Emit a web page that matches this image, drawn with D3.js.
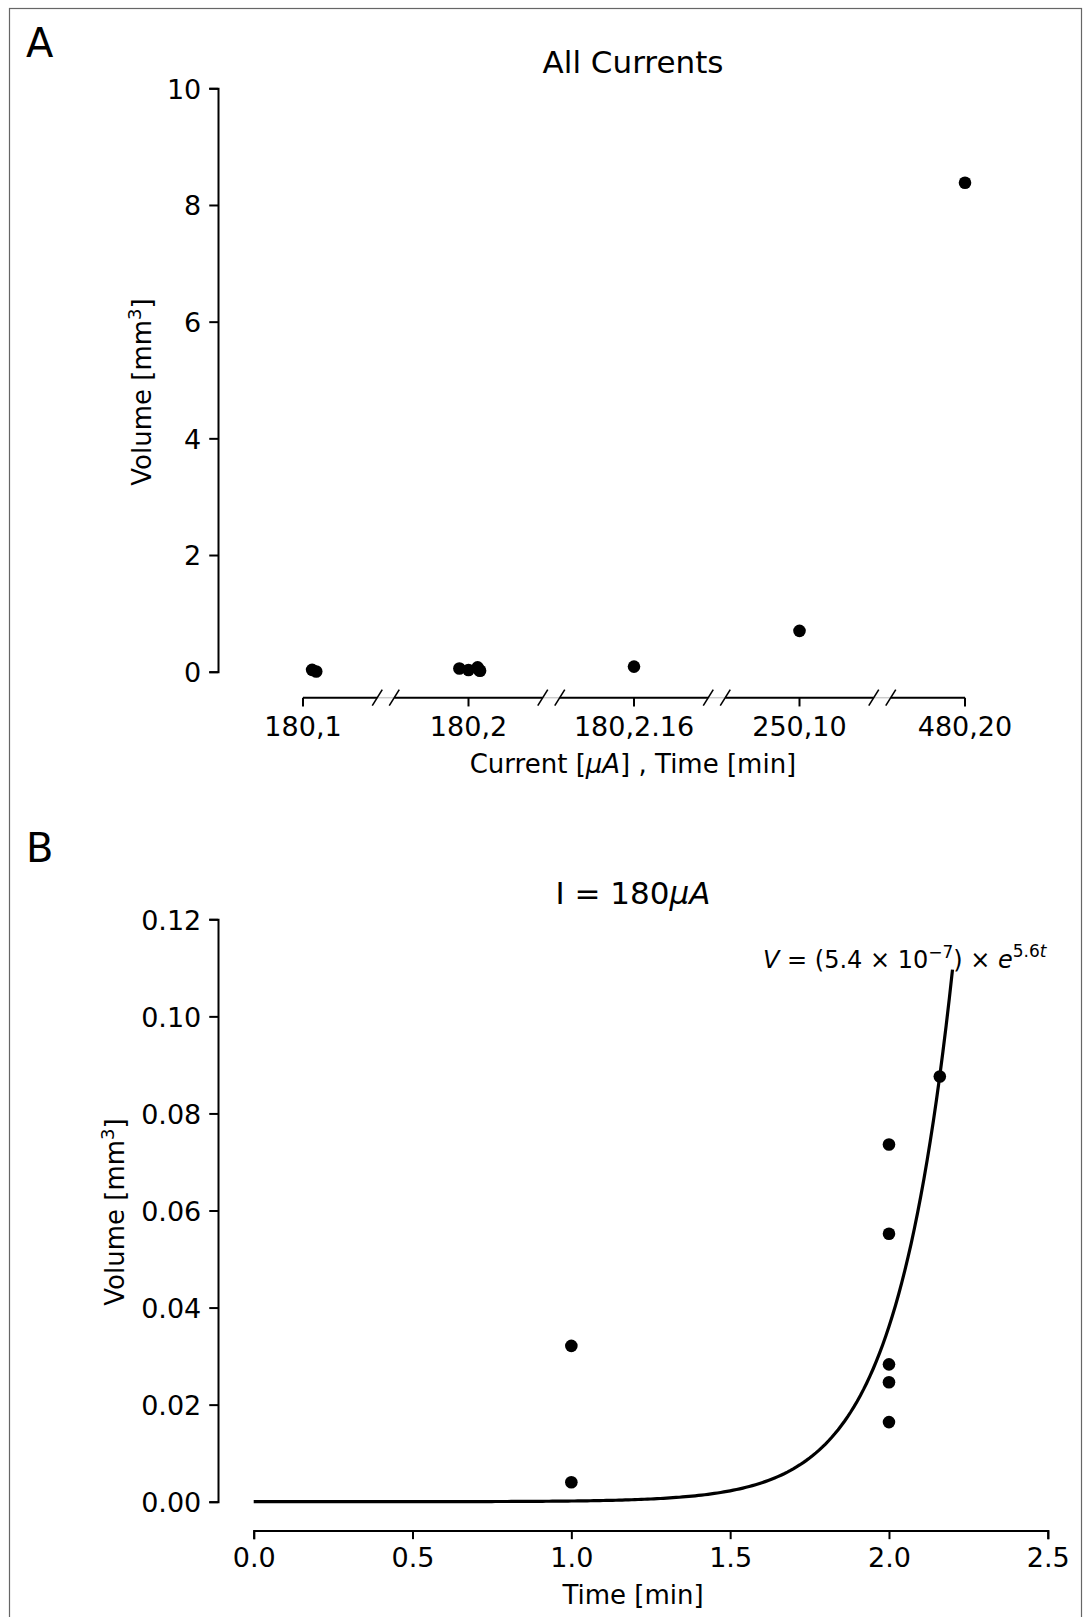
<!DOCTYPE html>
<html>
<head>
<meta charset="utf-8">
<script src="https://cdn.jsdelivr.net/npm/d3@7"></script>
<style>
  body { margin: 0; background: #fff; }
  svg, svg text { font-family: "DejaVu Sans", sans-serif; }
  .axis path, .axis line { stroke: #000; stroke-width: 2; }
  .axis text { font-size: 27px; fill: #000; font-family: "DejaVu Sans", sans-serif; }
</style>
</head>
<body>
<div id="container"></div>
<script>
// panel A: all currents
const categories = ["180,1", "180,2", "180,2.16", "250,10", "480,20"];
const allCat = [0, 0, 1, 1, 1, 1, 1, 2, 3, 4];
const allJitter = [0.055, 0.08, -0.055, 0.0, 0.055, 0.065, 0.07, 0.0, 0.0, 0.0];
const allVolume = [0.032, 0.004, 0.0553, 0.0283, 0.0737, 0.0247, 0.0164, 0.0875, 0.70, 8.38];
const yTicksA = [0, 2, 4, 6, 8, 10];

// panel B: I = 180uA
const timeB = [1.0, 1.0, 2.0, 2.0, 2.0, 2.0, 2.0, 2.16];
const volumeB = [0.0321, 0.0040, 0.0736, 0.0552, 0.0283, 0.0246, 0.0164, 0.0876];
const xTicksB = [0, 0.5, 1, 1.5, 2, 2.5];
const yTicksB = [0, 0.02, 0.04, 0.06, 0.08, 0.10, 0.12];
// fitted curve V = a * exp(b t)
const FIT_A = 5.4e-7, FIT_B = 5.555, FIT_TMAX = 2.2;

const W = 1089, H = 1617;
const svg = d3.select("#container").append("svg")
  .attr("width", W).attr("height", H);

// frame
svg.append("rect").attr("x", 9.5).attr("y", 8.5).attr("width", 1072).attr("height", 1640)
  .attr("fill", "none").attr("stroke", "#666").attr("stroke-width", 1.2);

// ---------- panel A ----------
const xA = d3.scalePoint().domain(d3.range(categories.length)).range([303, 965]);
const yA = d3.scaleLinear().domain([0, 10]).range([671.7, 88.3]);
const axisYA = 697.7;

svg.append("text").attr("x", 26).attr("y", 57).attr("font-size", 40).text("A");
svg.append("text").attr("x", 633).attr("y", 73).attr("text-anchor", "middle")
  .attr("font-size", 31).text("All Currents");

svg.append("g").attr("class", "axis").attr("transform", "translate(218,0)")
  .call(d3.axisLeft(yA).tickValues(yTicksA).tickSizeOuter(0).tickSize(8.75).tickPadding(8))
  .call(g => g.selectAll("text").attr("dy", "0.36em"));

// broken x axis: one segment per category, with // marks between
const xAxisA = svg.append("g").attr("class", "axis");
const step = xA.step();
categories.forEach((c, i) => {
  const cx = xA(i);
  const x0 = i === 0 ? cx : cx - step / 2 + 8.5;
  const x1 = i === categories.length - 1 ? cx : cx + step / 2 - 8.5;
  xAxisA.append("line").attr("x1", x0).attr("x2", x1).attr("y1", axisYA).attr("y2", axisYA);
  xAxisA.append("line").attr("x1", cx).attr("x2", cx).attr("y1", axisYA).attr("y2", axisYA + 8.75);
  xAxisA.append("text").attr("x", cx).attr("y", axisYA + 38).attr("text-anchor", "middle").text(c);
  if (i < categories.length - 1) {
    const mid = cx + step / 2;
    xAxisA.append("line").attr("x1", mid - 8.5).attr("x2", mid + 8.5)
      .attr("y1", axisYA).attr("y2", axisYA).style("stroke", "#ccc").style("stroke-width", 1.5);
    [mid - 8.5, mid + 8.5].forEach(m => {
      xAxisA.append("line").attr("x1", m - 5).attr("y1", axisYA + 8)
        .attr("x2", m + 5).attr("y2", axisYA - 8).style("stroke-width", 1.6);
    });
  }
});

const xlabA = svg.append("text").attr("x", 633).attr("y", 773).attr("text-anchor", "middle").attr("font-size", 26);
xlabA.append("tspan").text("Current [");
xlabA.append("tspan").attr("font-style", "italic").text("μA");
xlabA.append("tspan").text("] , Time [min]");

function ylabel(x, y) {
  const t = svg.append("text").attr("transform", `translate(${x},${y}) rotate(-90)`)
    .attr("text-anchor", "middle").attr("font-size", 26);
  t.append("tspan").text("Volume [mm");
  t.append("tspan").attr("font-size", 18).attr("dy", -10).text("3");
  t.append("tspan").attr("dy", 10).text("]");
}
ylabel(151, 392);

svg.append("g").selectAll("circle").data(allVolume).join("circle")
  .attr("cx", (d, i) => xA(allCat[i]) + allJitter[i] * step)
  .attr("cy", d => yA(d))
  .attr("r", 6.3).attr("fill", "#000");

// ---------- panel B ----------
const xB = d3.scaleLinear().domain([0, 2.5]).range([253.7, 1047.8]);
const yB = d3.scaleLinear().domain([0, 0.12]).range([1501.7, 919.3]);

svg.append("text").attr("x", 26).attr("y", 862).attr("font-size", 40).text("B");
const titleB = svg.append("text").attr("x", 633).attr("y", 904).attr("text-anchor", "middle").attr("font-size", 31);
titleB.append("tspan").text("I = 180");
titleB.append("tspan").attr("font-style", "italic").text("μA");

svg.append("g").attr("class", "axis").attr("transform", "translate(218,0)")
  .call(d3.axisLeft(yB).tickValues(yTicksB).tickFormat(d3.format(".2f")).tickSizeOuter(0).tickSize(8.75).tickPadding(8))
  .call(g => g.selectAll("text").attr("dy", "0.36em"));

svg.append("g").attr("class", "axis").attr("transform", "translate(0,1530.4)")
  .call(d3.axisBottom(xB).tickValues(xTicksB).tickFormat(d3.format(".1f")).tickSizeOuter(0).tickSize(8.75).tickPadding(9))
  .call(g => g.selectAll("text").attr("dy", "0.71em"));

svg.append("text").attr("x", 633).attr("y", 1604).attr("text-anchor", "middle")
  .attr("font-size", 26).text("Time [min]");
ylabel(124, 1212);

const curveT = d3.range(0, FIT_TMAX + 1e-9, 0.01);
svg.append("path")
  .datum(curveT)
  .attr("fill", "none").attr("stroke", "#000").attr("stroke-width", 3.2)
  .attr("d", d3.line().x(t => xB(t)).y(t => yB(FIT_A * Math.exp(FIT_B * t))));

svg.append("g").selectAll("circle").data(volumeB).join("circle")
  .attr("cx", (d, i) => xB(timeB[i]))
  .attr("cy", d => yB(d))
  .attr("r", 6.3).attr("fill", "#000");

// fit equation
const eq = svg.append("text").attr("x", 763).attr("y", 968).attr("font-size", 24);
eq.append("tspan").attr("font-style", "italic").text("V");
eq.append("tspan").text(" = (5.4 × 10");
eq.append("tspan").attr("font-size", 17).attr("dy", -10).text("−7");
eq.append("tspan").attr("dy", 10).text(") × ");
eq.append("tspan").attr("font-style", "italic").text("e");
eq.append("tspan").attr("font-size", 17).attr("dy", -11).text("5.6");
eq.append("tspan").attr("font-size", 17).attr("font-style", "italic").text("t");
</script>
</body>
</html>
